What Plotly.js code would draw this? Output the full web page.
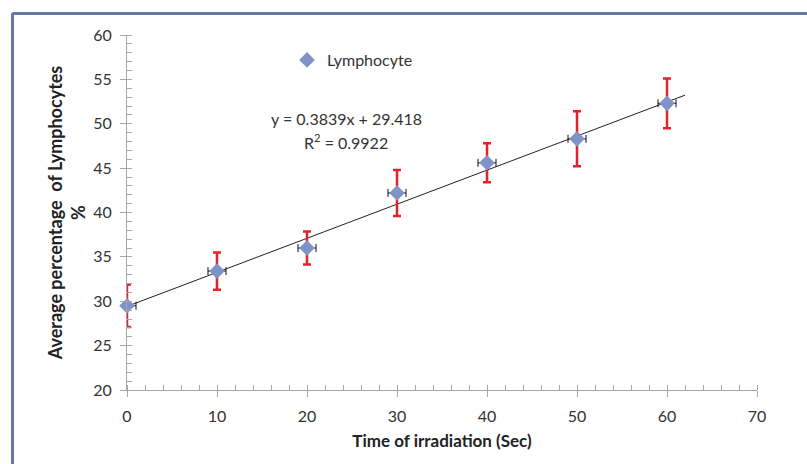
<!DOCTYPE html>
<html><head><meta charset="utf-8">
<script src="https://cdn.plot.ly/plotly-3.0.1.min.js"></script>
<style>
html,body{margin:0;padding:0;background:#fff;overflow:hidden}
#frame{position:absolute;left:11px;top:12px;width:820px;height:480px;border:3px solid #6877a8;border-radius:3px;box-sizing:border-box}
#chart{position:absolute;left:0;top:0;width:807px;height:464px}
</style></head>
<body>
<div id="frame"></div>
<div id="chart"></div>
<script>
const timeSec = [0, 10, 20, 30, 40, 50, 60];
const lymphocytePct = [29.5, 33.4, 36.0, 42.2, 45.6, 48.3, 52.3];
const yErr = [2.4, 2.1, 1.85, 2.6, 2.2, 3.1, 2.8];
const xErr = [1, 1, 1, 1, 1, 1, 1];
const slope = 0.3839, intercept = 29.418;
const trendX = [0, 62];
const trendY = trendX.map(x => slope * x + intercept);

const font = "Lato, 'Open Sans', sans-serif";
const data = [
  {x: trendX, y: trendY, mode: 'lines', line: {color: '#222', width: 1}, showlegend: false, hoverinfo: 'skip'},
  {x: timeSec, y: lymphocytePct, mode: 'markers', name: 'Lymphocyte', cliponaxis: false,
   marker: {symbol: 'diamond', size: 12, color: '#7f93c9'},
   error_y: {type: 'data', array: yErr, visible: true, color: '#e8202a', thickness: 2.5, width: 4},
   error_x: {type: 'data', array: xErr, visible: true, color: '#111', thickness: 1, width: 4}}
];
const layout = {
  width: 807, height: 464,
  paper_bgcolor: 'rgba(0,0,0,0)', plot_bgcolor: 'rgba(0,0,0,0)',
  margin: {l: 127, r: 50, t: 35, b: 74},
  font: {family: font, size: 16, color: '#333'},
  xaxis: {range: [0, 70], dtick: 10, showgrid: false, zeroline: false, showline: true, linecolor: '#a6a6a6', linewidth: 1,
    ticks: 'outside', ticklen: 6, tickcolor: '#a6a6a6', ticklabelstandoff: 6,
    minor: {dtick: 2, ticks: 'inside', ticklen: 5, tickcolor: '#a6a6a6'},
    tickfont: {size: 16, color: '#333'},
    title: {text: '<b>Time of irradiation (Sec)</b>', font: {size: 17, color: '#222'}, standoff: 10}},
  yaxis: {range: [20, 60], dtick: 5, showgrid: false, zeroline: false, showline: true, linecolor: '#a6a6a6', linewidth: 1,
    ticks: 'outside', ticklen: 6, tickcolor: '#a6a6a6', ticklabelstandoff: 5,
    minor: {dtick: 1, ticks: 'inside', ticklen: 5, tickcolor: '#a6a6a6'},
    tickfont: {size: 16, color: '#333'},
    title: {text: '<b>Average percentage  of Lymphocytes</b><br><b>%</b>', font: {size: 18, color: '#222'}, standoff: 2}},
  showlegend: true,
  legend: {x: (287-127)/630, y: 1 - (60-35)/355, xanchor: 'left', yanchor: 'middle', bgcolor: 'rgba(0,0,0,0)', font: {size: 16, color: '#333'}},
  annotations: [
    {xref: 'paper', yref: 'paper', x: (346-127)/630, y: 1 - (118-35)/355, xanchor: 'center', yanchor: 'middle', text: 'y = 0.3839x + 29.418', showarrow: false, font: {size: 16, color: '#333'}},
    {xref: 'paper', yref: 'paper', x: (346-127)/630, y: 1 - (141-35)/355, xanchor: 'center', yanchor: 'middle', text: 'R<sup>2</sup> = 0.9922', showarrow: false, font: {size: 16, color: '#333'}}
  ]
};
Plotly.newPlot('chart', data, layout, {displayModeBar: false});
</script>
</body></html>
